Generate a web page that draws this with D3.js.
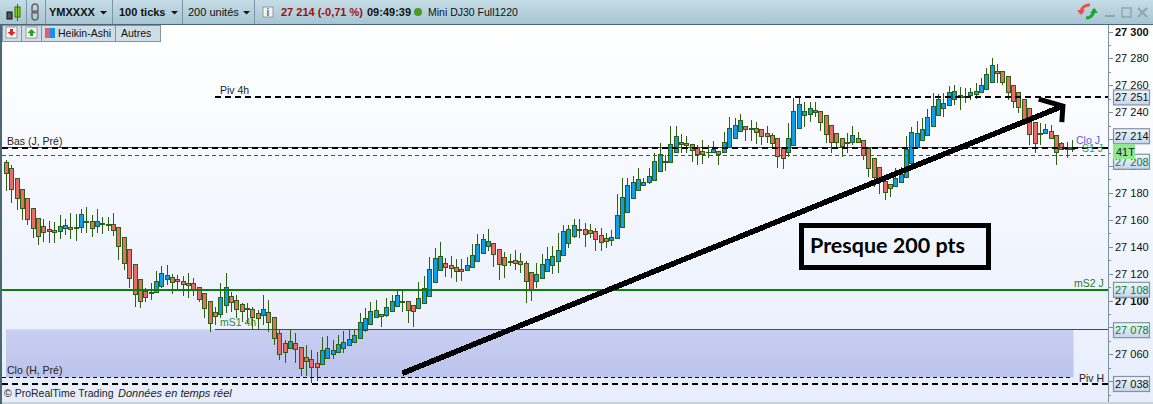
<!DOCTYPE html>
<html><head><meta charset="utf-8">
<script src="https://cdn.jsdelivr.net/npm/d3@7/dist/d3.min.js"></script>
<style>html,body{margin:0;padding:0;background:#fff;overflow:hidden}svg{display:block}text{font-family:"Liberation Sans",Arial,sans-serif}</style>
</head><body><div id="c"></div>
<script>
const opens=[27203,27198.5,27191.1,27182.9,27176.2,27168.8,27161.3,27155.4,27153.1,27152.4,
27151.7,27153.9,27154.6,27154.6,27154.6,27159.1,27159.1,27155.4,27157.6,27156.9,
27156.9,27154.6,27147.2,27138.3,27127.1,27116,27107,27106.3,27106.3,27110.8,
27116,27117.4,27116,27114.5,27113,27113,27110,27105.5,27099.6,27091.4,
27089.9,27096.6,27103.3,27100.4,27097.4,27094.4,27093.7,27090.7,27089.2,27091.4,
27087.7,27075.8,27068.4,27064.7,27068.4,27065.4,27058,27056.5,27053.5,27052.8,
27057.2,27060.2,27061.7,27064.7,27066.9,27069.1,27072.1,27078.1,27082.5,27087.7,
27089.9,27089.2,27092.2,27095.9,27099.6,27099.6,27096.6,27094.4,27098.1,27103.3,
27113.7,27122.7,27127.9,27126.4,27124.9,27123.4,27122.7,27124.9,27129.3,27135.3,
27140.5,27142.7,27138.3,27132.3,27129.3,27130.1,27129.3,27127.9,27121.2,27114.5,
27116.7,27121.9,27126.4,27129.3,27133.8,27142.7,27147.9,27152.4,27153.1,27152.4,
27151.7,27148.7,27146.5,27145,27146.5,27154.6,27165.8,27176.2,27182.1,27185.9,
27187.4,27189.6,27196.3,27203.7,27203,27209.7,27216.3,27217.1,27216.3,27214.1,
27211.1,27210.4,27210.4,27211.1,27209.7,27214.1,27220.8,27226,27229.7,27228.2,
27228.2,27226.8,27224.5,27223,27220.1,27213.4,27209.7,27215.6,27228.2,27237.2,
27238.6,27240.1,27240.9,27237.2,27230.5,27224.5,27220.8,27217.8,27217.8,27220.1,
27219.3,27213.4,27205.9,27199.2,27188.8,27186.6,27185.1,27188.1,27191.8,27202.2,
27214.1,27219.3,27223,27229.7,27237.2,27243.1,27245.3,27249.1,27252.8,27252,
27252.8,27253.5,27255,27257.2,27262.4,27269.9,27269.9,27266.2,27260.2,27254.3,
27249.1,27242.4,27232.7,27224.5,27224.5,27226,27223,27217.1,27213.4,27213.4];
const closes=[27194.8,27182.9,27176.2,27168.8,27160.6,27153.9,27147.9,27150.9,27151.7,27150.9,
27155.4,27156.1,27153.1,27153.9,27164.3,27158.3,27153.9,27159.1,27156.9,27156.1,
27152.4,27140.5,27127.9,27116.7,27104.8,27099.6,27102.6,27105.5,27114.5,27120.4,
27118.9,27113.7,27114.5,27112.3,27111.5,27108.5,27101.1,27094.4,27083.3,27088.5,
27102.6,27110,27098.9,27093.7,27092.2,27093.7,27087.7,27087,27093.7,27084,
27072.1,27060.2,27061.7,27069.9,27063.9,27049.8,27055,27050.5,27050.5,27063.2,
27064.7,27063.2,27067.6,27069.1,27071.4,27074.3,27084,27087,27092.2,27092.9,
27088.5,27095.1,27099.6,27104.1,27098.9,27092.9,27092.2,27101.8,27109.3,27123.4,
27131.6,27133,27124.9,27124.2,27121.9,27121.9,27126.4,27133.8,27142,27145.7,
27144.2,27134.6,27127.1,27126.4,27128.6,27127.9,27127.1,27114.5,27107.8,27119.7,
27127.1,27130.8,27133,27137.5,27151.7,27153.1,27156.1,27153.1,27149.4,27150.2,
27145.7,27143.5,27144.2,27147.2,27163.5,27176.9,27185.9,27187.4,27190.3,27188.1,
27192.5,27203.7,27208.9,27203,27216.3,27222.3,27217.8,27215.6,27211.9,27208.9,
27208.9,27209.7,27212.6,27208.9,27217.8,27228.2,27230.5,27234.2,27227.5,27227.5,
27225.3,27221.6,27222.3,27217.1,27207.4,27205.9,27220.8,27240.9,27246.1,27240.9,
27242.4,27241.6,27232.7,27223.8,27217.8,27217.8,27214.8,27217.1,27223,27217.8,
27208.2,27198.5,27191.8,27188.8,27180.7,27183.6,27191.1,27194,27212.6,27225.3,
27224.5,27226.8,27236.4,27244.6,27249.8,27246.8,27254.3,27255.7,27251.3,27251.3,
27255,27255.7,27260.2,27268.4,27275.1,27269.1,27262.4,27255,27248.3,27243.8,
27234.9,27223.8,27217.1,27223.8,27227.5,27220.8,27210.4,27212.6,27212.6,27212.6];
const highs=[27204.4,27200.7,27191.1,27182.9,27176.2,27168.8,27161.3,27160.6,27159.1,27158.3,
27163.5,27160.6,27165,27164.3,27168,27169.5,27163.5,27168,27162,27162,
27165,27154.6,27147.2,27138.3,27127.1,27116,27109.3,27113,27121.9,27125.6,
27126.4,27119.7,27118.9,27118.2,27120.4,27116.7,27110,27105.5,27099.6,27095.1,
27113,27120.4,27106.3,27104.1,27098.1,27098.1,27095.1,27092.9,27104.1,27100.4,
27087.7,27078.1,27070.6,27078.8,27075.8,27065.4,27066.9,27063.2,27061.7,27072.8,
27073.6,27070.6,27074.3,27077.3,27078.1,27078.1,27090.7,27094.4,27098.9,27100.4,
27089.9,27101.8,27104.1,27107.8,27107.8,27099.6,27096.6,27113.7,27118.2,27132.3,
27139,27143.5,27131.6,27133,27130.8,27130.8,27132.3,27142,27149.4,27149.4,
27153.1,27142.7,27138.3,27136.1,27134.6,27137.5,27135.3,27129.3,27121.2,27127.9,
27134.6,27139.8,27140.5,27150.2,27156.1,27156.1,27160.6,27160.6,27157.6,27156.9,
27153.9,27153.9,27150.2,27152.4,27179.2,27191.1,27191.1,27192.5,27198.5,27191.1,
27198.5,27209.7,27217.1,27208.2,27229.7,27229.7,27223.8,27222.3,27216.3,27215.6,
27219.3,27215.6,27218.6,27211.1,27225.3,27236.4,27235.7,27238.6,27229.7,27234.2,
27232.7,27226.8,27229.7,27224.5,27220.1,27213.4,27232,27250.6,27251.3,27247.6,
27247.6,27247.6,27240.9,27237.2,27230.5,27224.5,27220.8,27224.5,27229.7,27225.3,
27219.3,27213.4,27205.9,27199.2,27188.8,27186.6,27198.5,27199.2,27222.3,27229,
27233.4,27235.7,27242.4,27254.3,27253.5,27254.3,27259.5,27260.2,27258.7,27258,
27258,27261.7,27265.4,27272.9,27280.3,27275.8,27269.9,27266.2,27260.2,27254.3,
27249.1,27242.4,27232.7,27232,27231.2,27230.5,27223,27217.8,27217.8,27219.3];
const lows=[27181.4,27172.5,27167.3,27159.8,27156.1,27146.5,27141.3,27143.5,27142.7,27142.7,
27145.7,27148.7,27145.7,27144.2,27150.2,27150.2,27147.2,27150.2,27149.4,27151.7,
27147.9,27130.1,27122.7,27109.3,27095.1,27094.4,27098.9,27100.4,27106.3,27109.3,
27111.5,27104.8,27107.8,27103.3,27101.8,27103.3,27098.9,27087,27076.6,27081.8,
27087,27090.7,27091.4,27087,27084,27083.3,27078.8,27078.8,27081.8,27076.6,
27066.9,27055.8,27053.5,27063.9,27053.5,27043.8,27043.8,27038.6,27040.1,27052.8,
27057.2,27056.5,27061.7,27060.9,27066.9,27069.1,27072.1,27076.6,27082.5,27087.7,
27080.3,27087.7,27092.2,27095.9,27091.4,27083.3,27080.3,27094.4,27098.1,27103.3,
27113.7,27122.7,27117.4,27116.7,27113.7,27114.5,27122.7,27124.9,27129.3,27135.3,
27136.8,27124.9,27115.2,27116.7,27125.6,27122.7,27120.4,27098.1,27099.6,27109.3,
27116.7,27121.9,27119.7,27120.4,27133.8,27139,27146.5,27146.5,27139.8,27146.5,
27136.8,27136.8,27139,27140.5,27146.5,27154.6,27165.8,27176.2,27182.1,27185.9,
27186.6,27189.6,27196.3,27196.3,27203,27209.7,27209.7,27209.7,27203,27200.7,
27201.5,27205.9,27210.4,27200.7,27209.7,27214.1,27220.8,27226,27218.6,27218.6,
27216.3,27215.6,27217.1,27213.4,27198.5,27197.8,27206.7,27215.6,27228.2,27229,
27232.7,27236.4,27226,27217.1,27209.7,27213.4,27206.7,27209.7,27215.6,27217.1,
27204.4,27191.8,27184.4,27179.2,27174.7,27176.9,27185.1,27187.4,27191.8,27202.2,
27214.1,27219.3,27223,27229.7,27237.2,27236.4,27245.3,27245.3,27241.6,27246.8,
27249.1,27249.8,27255,27257.2,27262.4,27261.7,27260.2,27249.1,27243.1,27239.4,
27234.9,27215.6,27209.7,27215.6,27223.8,27220.8,27200.7,27212.6,27205.9,27210.4];

const majorTicks=d3.range(27040,27301,20);
const minorTicks=d3.range(27030,27301,10);
const boldTicks=[27100,27200,27300];
const hiddenTickLabels=[27040,27080,27220];
const zoneTop=27078.6, zoneBottom=27043;
const pivot4h=27251, lowDay=27213.5, s1Day=27208, ms2Day=27108, ms14h=27078.6, closeHour=27043, pivotHour=27038;
const trendStart=[74,27046], trendEnd=[197.3,27244.6];
const headBarbA=[192.8,27249.8], headBarbB=[197.1,27232.7];
const priceTagValues=[27251,27214,27208,27108,27078,27038];
const annotationText="Presque 200 pts";

const W=1153,H=404,axisX=1108;
const x=d3.scaleLinear().domain([0,199]).range([6,1072]);
const y=d3.scaleLinear().domain([27300,27038]).range([31.5,384]);
const fmt=v=>String(v).replace(/(\d\d)(\d{3})/,"$1 $2");

const svg=d3.select("#c").append("svg").attr("width",W).attr("height",H);
const defs=svg.append("defs");
function grad(id,stops){const g=defs.append("linearGradient").attr("id",id).attr("x1",0).attr("x2",0).attr("y1",0).attr("y2",1);
 stops.forEach(([o,c])=>g.append("stop").attr("offset",o).attr("stop-color",c));}
grad("bg",[[0,"#ffffff"],[.25,"#f9fbff"],[1,"#e7edfc"]]);
grad("zone",[[0,"#c9cff1"],[1,"#bcc3ec"]]);
grad("tag",[[0,"#f0f5fb"],[1,"#c5d6ea"]]);
grad("win",[[0,"#c5dde7"],[1,"#a6c5d2"]]);

// panel
svg.append("rect").attr("x",0).attr("y",24).attr("width",W).attr("height",H-24).attr("fill","url(#bg)");
svg.append("rect").attr("x",6).attr("width",x(199)+1.5-6).attr("y",y(zoneTop)).attr("height",y(zoneBottom)-y(zoneTop)).attr("fill","url(#zone)");

// axis
const axisMinor=d3.axisRight(y).tickValues(minorTicks).tickSize(3).tickFormat("");
const axisMajor=d3.axisRight(y).tickValues(majorTicks).tickSize(5).tickPadding(2).tickFormat(v=>hiddenTickLabels.includes(v)?"":fmt(v));
const ga=svg.append("g").attr("transform",`translate(${axisX},0)`);
ga.append("g").call(axisMinor).call(g=>{g.select(".domain").remove();g.selectAll("line").attr("stroke","#7d909b").attr("shape-rendering","crispEdges");});
ga.append("g").call(axisMajor).call(g=>{g.select(".domain").remove();
 g.selectAll("line").attr("stroke","#7d909b").attr("shape-rendering","crispEdges");
 g.selectAll("text").attr("font-size",11).attr("fill","#111").attr("font-family","'Liberation Sans'")
  .attr("font-weight",d=>boldTicks.includes(d)?"bold":"normal");});
svg.append("line").attr("x1",axisX+.5).attr("x2",axisX+.5).attr("y1",24).attr("y2",H).attr("stroke","#7d909b").attr("stroke-width",1);

// candles
const idx=d3.range(opens.length);
const wickC="#2b5f12";
const gc=svg.append("g").attr("shape-rendering","crispEdges");
gc.selectAll("line").data(idx).join("line")
 .attr("x1",i=>Math.round(x(i))+.5).attr("x2",i=>Math.round(x(i))+.5)
 .attr("y1",i=>y(highs[i])).attr("y2",i=>y(lows[i])).attr("stroke",wickC);
gc.selectAll("rect").data(idx).join("rect")
 .attr("x",i=>Math.round(x(i))-1.5).attr("width",4)
 .attr("y",i=>y(Math.max(opens[i],closes[i])))
 .attr("height",i=>Math.max(.5,Math.abs(y(opens[i])-y(closes[i]))))
 .attr("fill",i=>closes[i]>=opens[i]?"#0f9fea":"#e66e66").attr("stroke",wickC).attr("stroke-width",1);

// level lines
function hline(v,x1,x2,color,w,dash,dashOffset){svg.append("line").attr("x1",x1).attr("x2",x2).attr("y1",y(v)).attr("y2",y(v))
 .attr("stroke",color).attr("stroke-width",w).attr("stroke-dasharray",dash||null).attr("stroke-dashoffset",dashOffset||0).attr("shape-rendering","crispEdges");}
hline(pivot4h,215,axisX,"#000",2,"6,4");
hline(lowDay,2,axisX,"#3636b0",1,"6,4",5);
hline(lowDay,2,axisX,"#000",2,"6,4");
hline(s1Day,2,axisX,"#1b6e1b",1,"4,3");
hline(ms2Day,2,axisX,"#0a7d0a",2);
hline(ms14h,215,axisX,"#1d6b1d",1);
hline(closeHour,2,1073,"#000",1,"4,3");
hline(pivotHour,2,axisX,"#000",2,"6,4");

// labels
function label(t,px,py,color,opts={}){svg.append("text").attr("x",px).attr("y",py).attr("font-size",opts.size||10.5).attr("fill",color)
 .attr("font-weight",opts.weight||"normal").attr("font-style",opts.style||"normal").attr("text-anchor",opts.anchor||"start")
 .attr("letter-spacing",opts.spacing||null).style("font-family",opts.font||null).text(t);}
label("Piv 4h",220,94,"#222");
label("Bas (J, Pré)",7,145,"#222");
label("mS1 4h",220,326,"#2a8a3a");
label("Clo (H, Pré)",7,374,"#222");
label("Piv H",1079,382,"#222");
label("mS2 J",1074,287,"#2a7a2a");
label("Clo J",1076,144,"#5a5ae6");
label("S1 J",1082,152,"#3e9a50");
label("© ProRealTime Trading",4,397,"#222");
label("Données en temps réel",118,397,"#222",{style:"italic",size:11});

// arrow annotation
const linePath=d3.line().x(d=>x(d[0])).y(d=>y(d[1]));
svg.append("path").attr("d",linePath([trendStart,trendEnd])).attr("stroke","#000").attr("stroke-width",5.5).attr("fill","none").attr("shape-rendering","crispEdges");
svg.append("path").attr("d",linePath([headBarbA,trendEnd,headBarbB])).attr("stroke","#000").attr("stroke-width",5).attr("fill","none").attr("stroke-linejoin","miter");

// annotation box
svg.append("rect").attr("x",801.5).attr("y",225.5).attr("width",187).attr("height",42).attr("fill","none").attr("stroke","#000").attr("stroke-width",5);
label(annotationText,810,253,"#000",{size:21.5,weight:"bold",font:"Lato"});

// price tags
const tagOffset={27251:0,27214:-11,27208:6.5,27108:0,27078:0,27038:0};
const tagGreen=new Set([27208,27108,27078]);
priceTagValues.forEach(v=>{const cy=y(v)+tagOffset[v];
 svg.append("rect").attr("x",1113.5).attr("y",cy-7.5).attr("width",36).attr("height",15).attr("fill","url(#tag)").attr("stroke","#7f95a5").attr("stroke-width",1.2);
 label(fmt(v),1115,cy+4,tagGreen.has(v)?"#0f7d1f":"#111",{size:11});});
svg.append("rect").attr("x",1113).attr("y",144).attr("width",22).attr("height",15).attr("fill","#90e892");
label("41T",1116,156,"#222",{size:11});

// toolbar
svg.append("rect").attr("width",W).attr("height",24).attr("fill","url(#win)");
svg.append("rect").attr("y",24).attr("width",W).attr("height",1).attr("fill","#4d6673");
svg.append("rect").attr("y",24).attr("width",2).attr("height",H-24).attr("fill","#4d6673");
[26,45,112,182,254].forEach(px=>svg.append("rect").attr("x",px).attr("y",0).attr("width",1).attr("height",24).attr("fill","#7a96a3"));
svg.append("rect").attr("x",7).attr("y",12).attr("width",5).attr("height",7).attr("fill","#555").attr("stroke","#111");
svg.append("rect").attr("x",15).attr("y",7).attr("width",5).attr("height",10).attr("fill","#8ccf1a").attr("stroke","#3c6a00");
svg.append("line").attr("x1",17.5).attr("x2",17.5).attr("y1",4).attr("y2",21).attr("stroke","#3c6a00");
svg.append("rect").attr("x",32).attr("y",4).attr("width",6).attr("height",9).attr("rx",3).attr("fill","none").attr("stroke","#666").attr("stroke-width",1.5);
svg.append("rect").attr("x",32).attr("y",11).attr("width",6).attr("height",9).attr("rx",3).attr("fill","none").attr("stroke","#666").attr("stroke-width",1.5);
label("YMXXXX",49,16,"#111",{size:11,weight:"bold"});
label("100 ticks",119,16,"#111",{size:11,weight:"bold"});
label("200 unités",188,16,"#111",{size:11});
[[103,12],[174,12],[246,12]].forEach(([a,b])=>svg.append("path").attr("d",`M${a-3},${b-1}h7l-3.5,3.5z`).attr("fill","#111"));
svg.append("rect").attr("x",263).attr("y",7).attr("width",10).attr("height",10).attr("fill","#f2f2f2").attr("stroke","#999");
label("i",266.5,16,"#666",{size:10,weight:"bold"});
label("27 214 (-0,71 %)",281,16,"#9c0f14",{size:11,weight:"bold"});
label("09:49:39",367,16,"#111",{size:11,weight:"bold"});
svg.append("circle").attr("cx",418).attr("cy",12).attr("r",4).attr("fill","#4f9a1e");
label("Mini DJ30 Full1220",428,16,"#111",{size:10.5});
// window icons
svg.append("path").attr("d","M1081,14a8,8 0 0 1 9,-9").attr("fill","none").attr("stroke","#e6524a").attr("stroke-width",3);
svg.append("path").attr("d","M1077,10l4,5l4,-5z").attr("fill","#e6524a");
svg.append("path").attr("d","M1094,9a8,8 0 0 1 -8,9").attr("fill","none").attr("stroke","#23a23a").attr("stroke-width",3);
svg.append("path").attr("d","M1090,13l4,-5l4,5z").attr("fill","#23a23a");
svg.append("rect").attr("x",1105).attr("y",15).attr("width",10).attr("height",2).attr("fill","#8ea6b1");
svg.append("rect").attr("x",1122).attr("y",8).attr("width",9).attr("height",9).attr("fill","none").attr("stroke","#8ea6b1").attr("stroke-width",1.5);
svg.append("path").attr("d","M1138,8l9,9M1147,8l-9,9").attr("stroke","#8ea6b1").attr("stroke-width",2);

// tabs row
svg.append("rect").attr("x",2).attr("y",25).attr("width",158).attr("height",16).attr("fill","#cfdde6").attr("stroke","#7f95a5").attr("shape-rendering","crispEdges");
[21,41,115].forEach(px=>svg.append("rect").attr("x",px).attr("y",25).attr("width",1).attr("height",16).attr("fill","#7f95a5"));
svg.append("rect").attr("x",6).attr("y",27).attr("width",11).attr("height",11).attr("fill","#f6f6f6").attr("stroke","#999");
svg.append("path").attr("d","M11.5,36l-4,-4h2.5v-3h3v3h2.5z").attr("fill","#e32222");
svg.append("rect").attr("x",26).attr("y",27).attr("width",11).attr("height",11).attr("fill","#f6f6f6").attr("stroke","#999");
svg.append("path").attr("d","M31.5,29l4,4h-2.5v3h-3v-3h-2.5z").attr("fill","#1fa51f");
svg.append("rect").attr("x",45).attr("y",28).attr("width",5).attr("height",10).attr("fill","#e0606a");
svg.append("rect").attr("x",50).attr("y",28).attr("width",5).attr("height",10).attr("fill","#1590f2");
label("Heikin-Ashi",58,37,"#111",{size:10.5});
label("Autres",121,37,"#111",{size:10.5});
// bottom strip
svg.append("rect").attr("x",2).attr("y",H-2).attr("width",W).attr("height",2).attr("fill","#c9d3d8");
</script></body></html>
